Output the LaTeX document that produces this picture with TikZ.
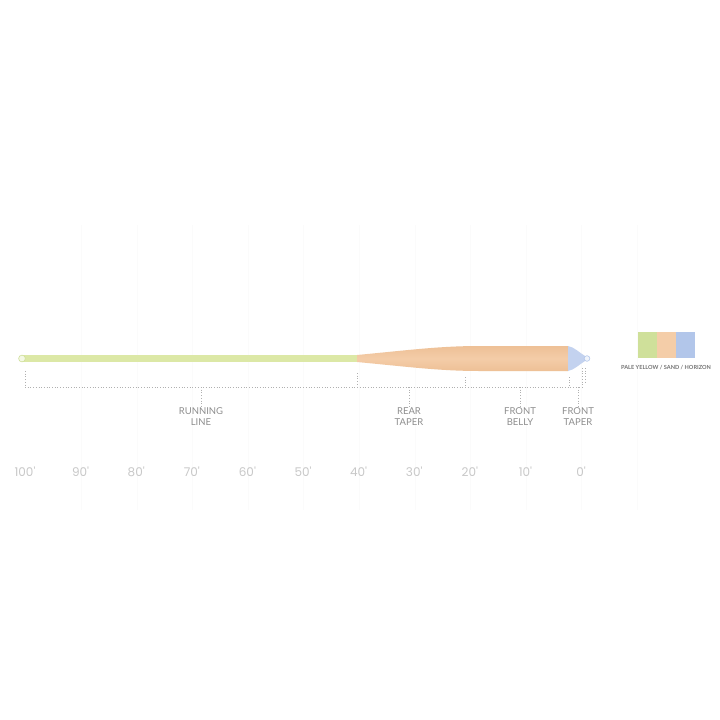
\documentclass[tikz,border=0pt]{standalone}
\usepackage{fontspec}
\setmainfont{Poppins}
\newfontfamily\labfont{Lato}
\definecolor{pale}{HTML}{DCE8A6}
\definecolor{paleB}{HTML}{CFE09A}
\definecolor{sand}{HTML}{F4CDA8}
\definecolor{sandD}{HTML}{EEC096}
\definecolor{horizon}{HTML}{C3D2EF}
\definecolor{horizonB}{HTML}{B2C6EA}
\definecolor{dotc}{HTML}{B0B0B0}
\definecolor{labc}{HTML}{8E8E8E}
\definecolor{scalec}{HTML}{C8C8C8}
\tikzset{
  dotline/.style={draw=dotc, line width=0.7pt, dotted},
  seglabel/.style={font=\labfont\fontsize{9.5}{11}\selectfont, text=labc, align=center, inner sep=0pt},
  scalelabel/.style={font=\fontsize{12}{14}\selectfont, text=scalec, inner sep=0pt},
}
\begin{document}
\begin{tikzpicture}[x=1pt,y=-1pt]
\useasboundingbox (0,0) rectangle (720,720);
\fill[white] (0,0) rectangle (720,720);
% faint grid
\foreach \x in {81,137,192,248,303,359,415,470,526,581,637}
  \draw[black!1.5, line width=0.5pt] (\x,225) -- (\x,510);
% running line
\fill[pale] (22,355) rectangle (358,362);
\draw[paleB, fill=white!70!pale, line width=0.6pt] (22,358.5) circle (3.4);
% sand body
\shade[top color=sandD, bottom color=sandD, middle color=sand]
  (357,355) .. controls (410,350) and (440,346) .. (480,346) -- (568,346) -- (568,371) -- (480,371)
  .. controls (440,371) and (410,367) .. (357,362) -- cycle;
% front taper
\fill[horizon] (568,346) .. controls (574,347) and (580,353) .. (585,356)
  -- (585,361) .. controls (580,364) and (574,370) .. (568,371) -- cycle;
\draw[horizonB, fill=white!75!horizon, line width=0.6pt] (587,358.5) circle (2.8);
% bracket
\coordinate (bl) at (25,387);
\coordinate (br) at (579,387);
\draw[dotline] (bl) -- (br);
\draw[dotline] (25,371) -- (bl);
\draw[dotline] (357,373) -- (357,387);
\draw[dotline] (465,377) -- (465,387);
\draw[dotline] (569,377) -- (569,387);
\draw[dotline] (582,368) -- (582,387);
\draw[dotline] (585,368) -- (585,384);
% labels
\node[seglabel] (rl) at (201,417) {RUNNING\\LINE};
\node[seglabel] (rt) at (409,417) {REAR\\TAPER};
\node[seglabel] (fb) at (520,417) {FRONT\\BELLY};
\node[seglabel] (ft) at (578,417) {FRONT\\TAPER};
\draw[dotline] (201,387) -- (rl.north);
\draw[dotline] (409,387) -- (rt.north);
\draw[dotline] (520,387) -- (fb.north);
\draw[dotline] (578,387) -- (ft.north);
% scale
\foreach \v [count=\i from 0] in {100,90,80,70,60,50,40,30,20,10,0}
  \node[scalelabel] (s\i) at ({25+55.6*\i},472) {\v\textquotesingle};
% swatch
\fill[paleB] (638,332) rectangle (657,358);
\fill[sand] (657,332) rectangle (676,358);
\fill[horizonB] (676,332) rectangle (695,358);
\node[font=\labfont\bfseries\fontsize{5.6}{6}\selectfont, text=black!55, inner sep=0pt] (sw) at (666,368) {PALE YELLOW / SAND / HORIZON};
\end{tikzpicture}
\end{document}
